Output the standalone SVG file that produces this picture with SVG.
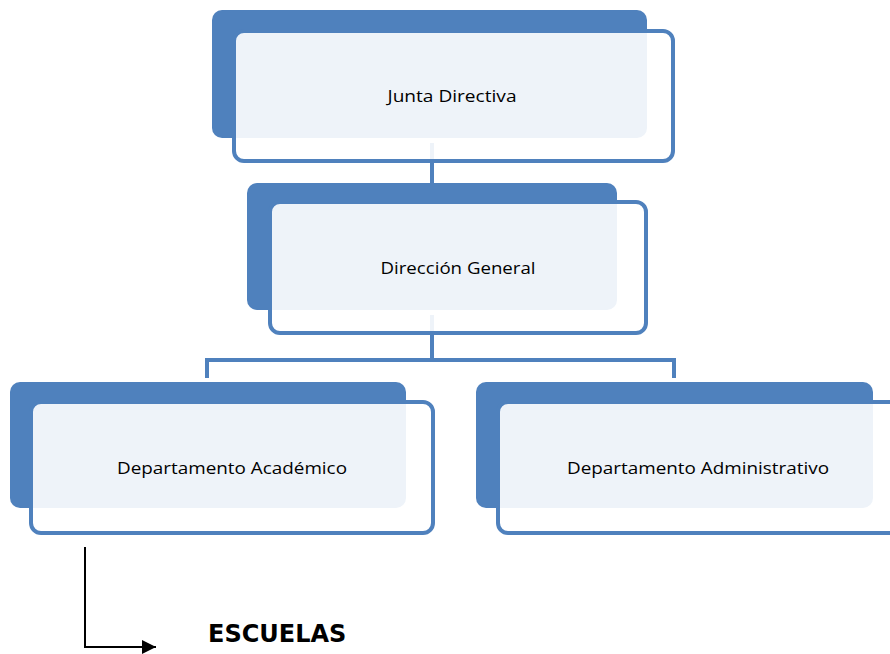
<svg xmlns="http://www.w3.org/2000/svg" width="890" height="654" viewBox="0 0 890 654">
<style>
.back{fill:#4F81BD}
.front{fill:#FFFFFF;fill-opacity:0.9;stroke:#4F81BD;stroke-width:4}
.conn{stroke:#4F81BD;stroke-width:4;fill:none}
.lbl{font-family:"Open Sans","Liberation Sans",sans-serif;font-size:16px;fill:#000;text-anchor:middle}
.esc{font-family:"DejaVu Sans",Verdana,sans-serif;font-weight:bold;font-size:24px;fill:#000}
</style>
<defs>
<marker id="arr" viewBox="0 0 10 10" refX="10" refY="5" markerWidth="7" markerHeight="7" markerUnits="strokeWidth" orient="auto">
<path d="M0,0 L10,5 L0,10 z" fill="#000"/>
</marker>
</defs>
<rect width="890" height="654" fill="#FFFFFF"/>
<g id="connectors">
<line class="conn" x1="432" y1="143" x2="432" y2="183"/>
<path class="conn" d="M432,315 V360 M207,378 V360 H674 V378"/>
</g>
<g id="junta">
<rect class="back" x="212" y="10" width="435" height="128" rx="10"/>
<rect class="front" x="234" y="31" width="439" height="130" rx="10"/>
<text class="lbl" x="452" y="102" textLength="129" lengthAdjust="spacingAndGlyphs">Junta Directiva</text>
</g>
<g id="direccion">
<rect class="back" x="247" y="183" width="370" height="127" rx="10"/>
<rect class="front" x="270" y="202" width="376" height="131" rx="10"/>
<text class="lbl" x="458" y="274" textLength="155" lengthAdjust="spacingAndGlyphs">Dirección General</text>
</g>
<g id="academico">
<rect class="back" x="10" y="382" width="396" height="126" rx="10"/>
<rect class="front" x="31" y="402" width="402" height="131" rx="10"/>
<text class="lbl" x="232" y="474" textLength="230" lengthAdjust="spacingAndGlyphs">Departamento Académico</text>
</g>
<g id="administrativo">
<rect class="back" x="476" y="382" width="397" height="126" rx="10"/>
<rect class="front" x="498" y="402" width="402" height="131" rx="10"/>
<text class="lbl" x="698" y="474" textLength="262" lengthAdjust="spacingAndGlyphs">Departamento Administrativo</text>
</g>
<g id="escuelas">
<path d="M85,547 V647 H156" stroke="#000" stroke-width="2" fill="none" marker-end="url(#arr)"/>
<text class="esc" x="208" y="642">ESCUELAS</text>
</g>
</svg>
